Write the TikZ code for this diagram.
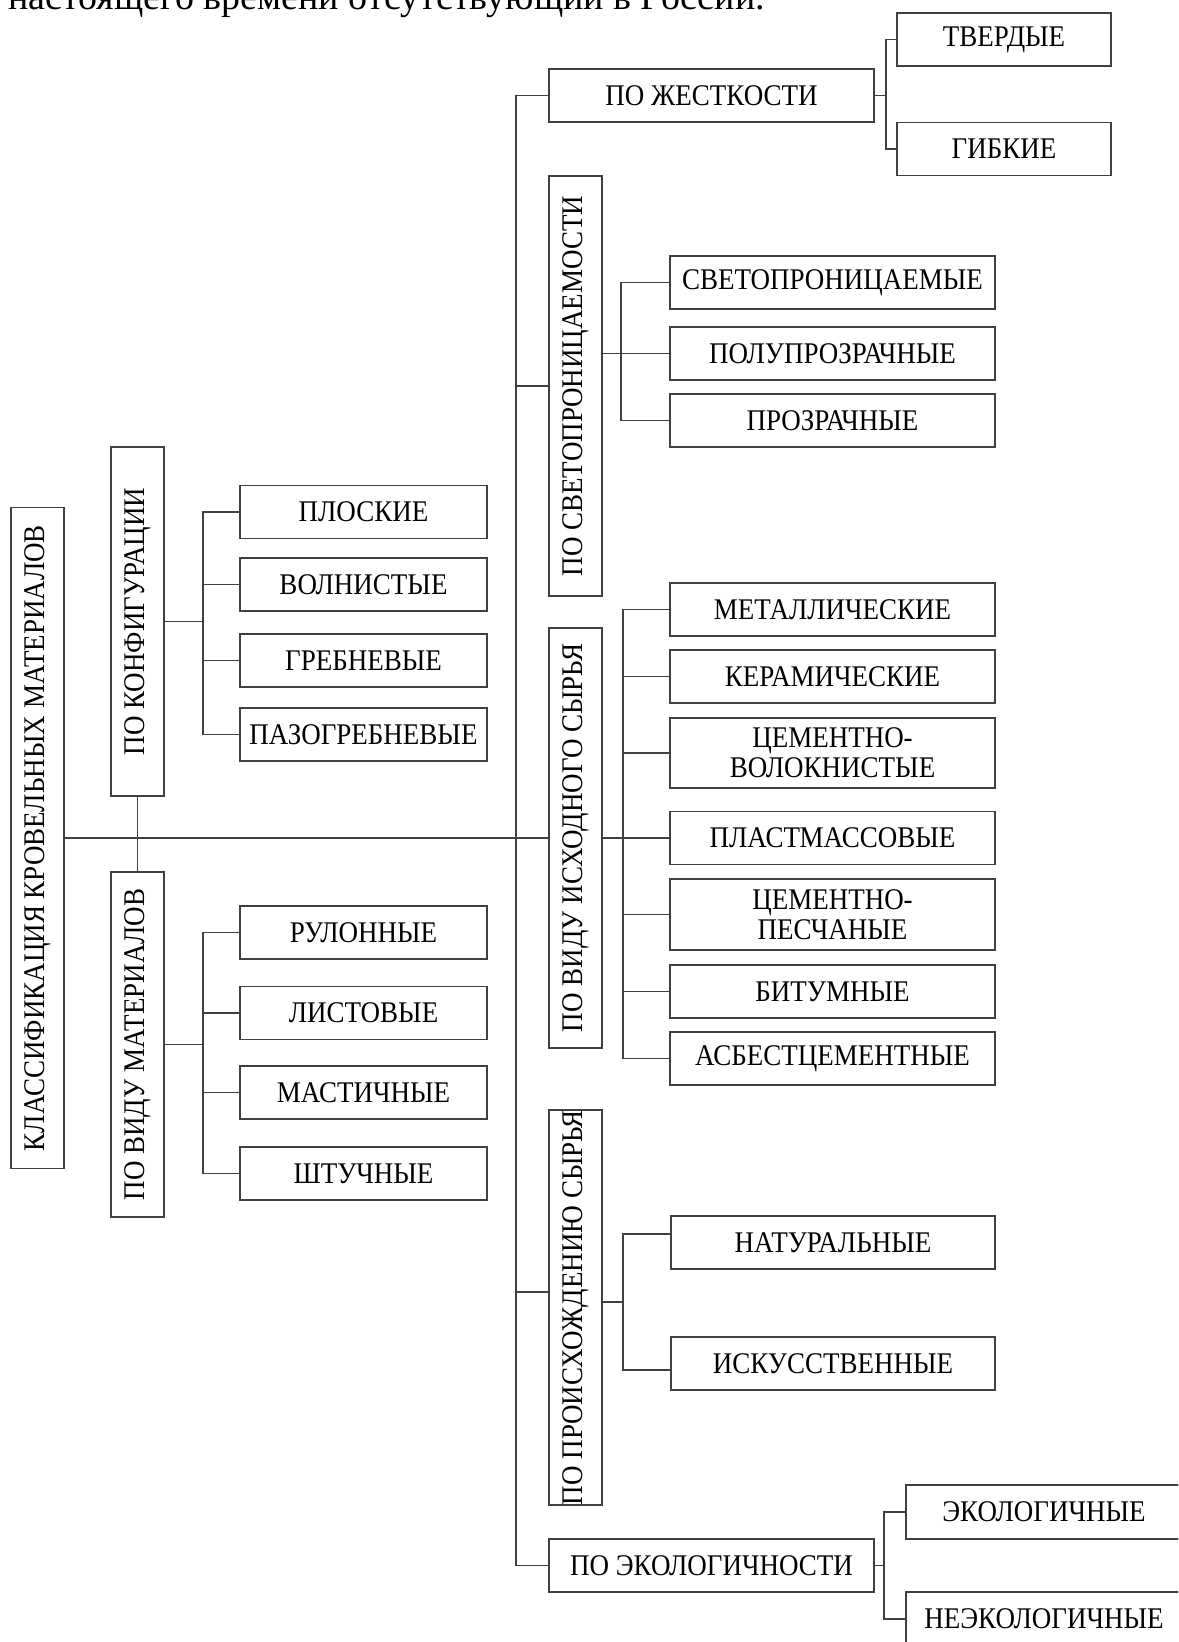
\documentclass[tikz,border=0pt]{standalone}
\usepackage{fontspec}
\setmainfont{Liberation Serif}[FakeStretch=0.9]
\newfontfamily\introfont{Liberation Serif}

\tikzset{
	box/.style={
		rectangle,
		draw=black!75,
		line width=0.8pt,
		inner sep=0pt,
		outer sep=0pt,
		minimum height=26.5pt,
		align=center,
		font=\fontsize{15}{15}\selectfont
	},
	vbox/.style={box, rotate=90},
	link/.style={draw=black!75, line width=0.8pt}
}

\begin{document}
\begin{tikzpicture}[x=0.5pt, y=-0.5pt]
	\useasboundingbox (0,0) rectangle (1178,1642);
	\clip (0,0) rectangle (1178,1642);

	\node[anchor=base west, inner sep=0pt, font=\introfont\fontsize{19}{19}\selectfont] (intro) at (8,10) {настоящего времени отсутствующий в России.};

	\node[vbox, minimum width=330.5pt] (root) at (37.5,838) {КЛАССИФИКАЦИЯ КРОВЕЛЬНЫХ МАТЕРИАЛОВ};
	\node[vbox, minimum width=174.5pt] (konf) at (137.5,621.5) {ПО КОНФИГУРАЦИИ};
	\node[vbox, minimum width=172.5pt] (vidmat) at (137.5,1044.5) {ПО ВИДУ МАТЕРИАЛОВ};

	\node[box, minimum width=123.5pt] (ploskie) at (363.5,512) {ПЛОСКИЕ};
	\node[box, minimum width=123.5pt] (volnist) at (363.5,584.5) {ВОЛНИСТЫЕ};
	\node[box, minimum width=123.5pt] (greb) at (363.5,660.5) {ГРЕБНЕВЫЕ};
	\node[box, minimum width=123.5pt] (pazo) at (363.5,734.5) {ПАЗОГРЕБНЕВЫЕ};

	\node[box, minimum width=123.5pt] (rulon) at (363.5,932.5) {РУЛОННЫЕ};
	\node[box, minimum width=123.5pt] (list) at (363.5,1013) {ЛИСТОВЫЕ};
	\node[box, minimum width=123.5pt] (mastik) at (363.5,1092.5) {МАСТИЧНЫЕ};
	\node[box, minimum width=123.5pt] (shtuch) at (363.5,1173.5) {ШТУЧНЫЕ};

	\node[box, minimum width=162.5pt] (zhest) at (711.5,95.5) {ПО ЖЕСТКОСТИ};
	\node[box, minimum width=107pt] (tverd) at (1004,39.5) {ТВЕРДЫЕ};
	\node[box, minimum width=107pt] (gibk) at (1004,149) {ГИБКИЕ};

	\node[vbox, minimum width=210pt] (sveto) at (575.5,386) {ПО СВЕТОПРОНИЦАЕМОСТИ};
	\node[box, minimum width=162.5pt] (svetopr) at (832.5,282.5) {СВЕТОПРОНИЦАЕМЫЕ};
	\node[box, minimum width=162.5pt] (polupr) at (832.5,353.5) {ПОЛУПРОЗРАЧНЫЕ};
	\node[box, minimum width=162.5pt] (prozr) at (832.5,420.5) {ПРОЗРАЧНЫЕ};

	\node[vbox, minimum width=210pt] (ishod) at (575.5,838) {ПО ВИДУ ИСХОДНОГО СЫРЬЯ};
	\node[box, minimum width=162.5pt] (metal) at (832.5,609.5) {МЕТАЛЛИЧЕСКИЕ};
	\node[box, minimum width=162.5pt] (keram) at (832.5,676.5) {КЕРАМИЧЕСКИЕ};
	\node[box, minimum width=162.5pt, minimum height=35pt] (cemvol) at (832.5,753) {ЦЕМЕНТНО-\\ВОЛОКНИСТЫЕ};
	\node[box, minimum width=162.5pt] (plast) at (832.5,838) {ПЛАСТМАССОВЫЕ};
	\node[box, minimum width=162.5pt, minimum height=35.5pt] (cempes) at (832.5,914.5) {ЦЕМЕНТНО-\\ПЕСЧАНЫЕ};
	\node[box, minimum width=162.5pt] (bitum) at (832.5,991.5) {БИТУМНЫЕ};
	\node[box, minimum width=162.5pt] (asbest) at (832.5,1058.5) {АСБЕСТЦЕМЕНТНЫЕ};

	\node[vbox, minimum width=194.5pt] (proish) at (575.5,1307.5) {ПО ПРОИСХОЖДЕНИЮ СЫРЬЯ};
	\node[box, minimum width=162pt] (natur) at (833,1242.5) {НАТУРАЛЬНЫЕ};
	\node[box, minimum width=162pt] (iskus) at (833,1363.5) {ИСКУССТВЕННЫЕ};

	\node[box, minimum width=162.5pt] (ekol) at (711.5,1565.5) {ПО ЭКОЛОГИЧНОСТИ};
	\node[box, minimum width=138pt, minimum height=27pt] (ekolog) at (1044,1512) {ЭКОЛОГИЧНЫЕ};
	\node[box, minimum width=138pt, minimum height=27pt] (neekolog) at (1044,1619) {НЕЭКОЛОГИЧНЫЕ};

	\coordinate (trunk) at (516,838);
	\coordinate (konfbar) at (203,621.5);
	\coordinate (vidmatbar) at (203,1044.5);
	\coordinate (zhestbar) at (886,95.5);
	\coordinate (svetobar) at (621,353.5);
	\coordinate (ishodbar) at (623,838);
	\coordinate (proishin) at (549,1292);
	\coordinate (proishbar) at (623,1302);
	\coordinate (naturin) at (671,1234);
	\coordinate (iskusin) at (671,1370);
	\coordinate (ekolbar) at (884,1565.5);

	\draw[link] (root) -- (ishod);
	\draw[link] (konf) -- (vidmat);

	\draw[link] (konf) -- (konfbar);
	\draw[link] (ploskie.west) -| (konfbar) |- (pazo.west);
	\foreach \n in {volnist,greb}
		\draw[link] (konfbar |- \n.west) -- (\n.west);

	\draw[link] (vidmat) -- (vidmatbar);
	\draw[link] (rulon.west) -| (vidmatbar) |- (shtuch.west);
	\foreach \n in {list,mastik}
		\draw[link] (vidmatbar |- \n.west) -- (\n.west);

	\draw[link] (zhest.west) -| (trunk) |- (ekol.west);
	\draw[link] (trunk |- sveto) -- (sveto);
	\draw[link] (trunk |- proishin) -- (proishin);

	\draw[link] (zhest) -- (zhestbar);
	\draw[link] (tverd.west) -| (zhestbar) |- (gibk.west);

	\draw[link] (sveto.south |- svetobar) -- (svetobar);
	\draw[link] (svetopr.west) -| (svetobar) |- (prozr.west);
	\draw[link] (svetobar) -- (polupr.west);

	\draw[link] (ishod) -- (ishodbar);
	\draw[link] (metal.west) -| (ishodbar) |- (asbest.west);
	\foreach \n in {keram,cemvol,plast,cempes,bitum}
		\draw[link] (ishodbar |- \n.west) -- (\n.west);

	\draw[link] (proish.south |- proishbar) -- (proishbar);
	\draw[link] (naturin) -| (proishbar) |- (iskusin);

	\draw[link] (ekol) -- (ekolbar);
	\draw[link] (ekolog.west) -| (ekolbar) |- (neekolog.west);
\end{tikzpicture}
\end{document}
